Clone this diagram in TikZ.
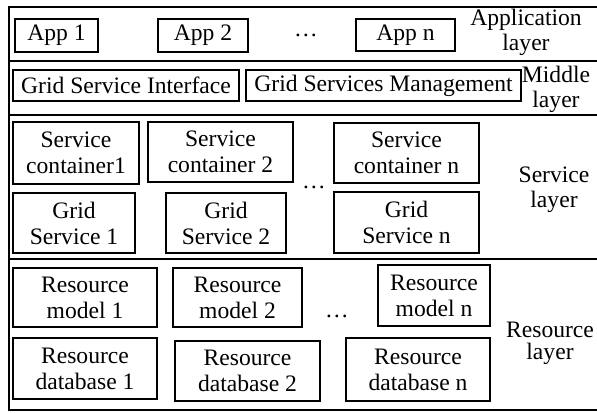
\documentclass[tikz,border=0pt]{standalone}
\usepackage{fontspec}
\setmainfont{Liberation Serif}
\usetikzlibrary{positioning}
\tikzset{
	blk/.style={draw, line width=0.8pt, inner sep=0pt, align=center, font=\fontsize{11.8}{13}\selectfont},
	lyr/.style={align=center, inner sep=0pt, font=\fontsize{11.8}{12.5}\selectfont},
	dts/.style={inner sep=0pt, anchor=base, font=\fontsize{11.8}{13}\selectfont},
	frm/.style={line width=0.9pt}
}
%name, centre x, centre y, width (pt), height (pt), text
\newcommand{\layerbox}[6]{
	\node[blk, minimum width=#4pt, minimum height=#5pt] (#1) at (#2,#3) {#6};
}

\begin{document}
\begin{tikzpicture}[x=0.5pt, y=-0.5pt]
	\useasboundingbox (0,0) rectangle (597,412);
	%outer frame and layer borders
	\coordinate (tl) at (9,7);
	\coordinate (bl) at (9,410);
	\draw[frm] (597,7) -- (tl) -- (bl) -- (597,410);
	\foreach \y in {61, 115, 259}
		\draw[frm] (9,\y) -- (597,\y);

	%application layer
	\layerbox{app1}{56.5}{35.5}{41.5}{16.5}{App 1}
	\layerbox{app2}{203}{35.5}{45}{16.5}{App 2}
	\layerbox{appn}{405.5}{35}{49.5}{16}{App n}
	\node[dts] (appdots) at (306,36) {\dots};
	\node[lyr] (applbl) at (526,32) {Application\\layer};

	%middle layer
	\layerbox{gsi}{126}{85.5}{113}{15.5}{Grid Service Interface}
	\layerbox{gsm}{383.5}{85.5}{137.5}{15.5}{Grid Services Management}
	\node[lyr] (midlbl) at (556,89) {Middle\\layer};

	%service layer
	\layerbox{sc1}{76}{153}{63}{31}{Service\\container1}
	\layerbox{sc2}{220.5}{152}{72.5}{30}{Service\\container 2}
	\layerbox{scn}{406.5}{153}{72.5}{30}{Service\\container n}
	\layerbox{gs1}{74}{223}{61}{30}{Grid\\Service 1}
	\layerbox{gs2}{226}{223}{60}{30}{Grid\\Service 2}
	\layerbox{gsn}{406.5}{222.5}{72.5}{30.5}{Grid\\Service n}
	\node[dts] (srvdots) at (314,188) {\dots};
	\node[lyr] (srvlbl) at (554,190) {Service\\layer};

	%resource layer
	\layerbox{rm1}{85}{297.5}{72}{29.5}{Resource\\model 1}
	\layerbox{rm2}{237.5}{297.5}{64.5}{29.5}{Resource\\model 2}
	\layerbox{rmn}{434}{295.5}{56}{30.5}{Resource\\model n}
	\layerbox{rd1}{85}{368.5}{72}{30.5}{Resource\\database 1}
	\layerbox{rd2}{247.5}{371}{72.5}{30}{Resource\\database 2}
	\layerbox{rdn}{418}{369.5}{72}{31.5}{Resource\\database n}
	\node[dts] (resdots) at (337,317) {\dots};
	\node[lyr, font=\fontsize{11.8}{11}\selectfont] (reslbl) at (550,343) {Resource\\layer};
\end{tikzpicture}
\end{document}
